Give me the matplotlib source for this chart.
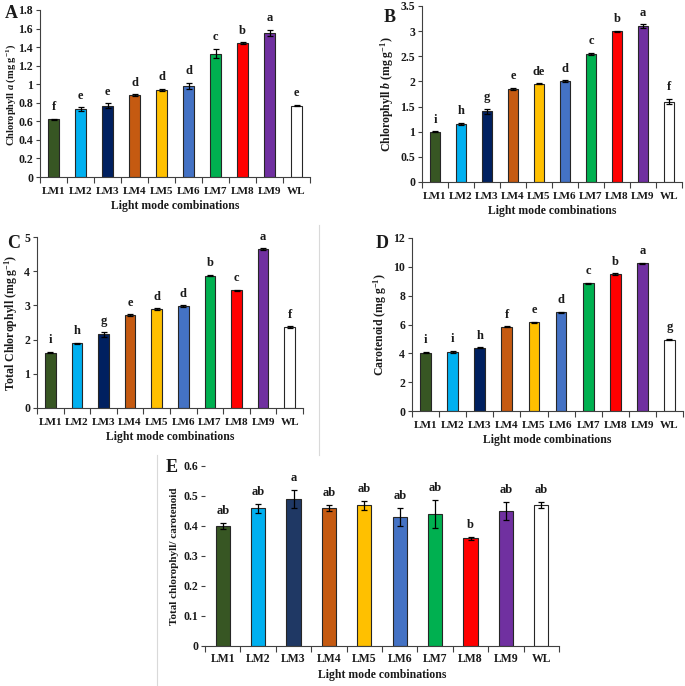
import numpy as np
import matplotlib
matplotlib.use("Agg")
import matplotlib.pyplot as plt
from matplotlib.lines import Line2D

plt.rcParams['font.family'] = ['Liberation Serif', 'DejaVu Serif']
plt.rcParams['font.weight'] = 'bold'
plt.rcParams['mathtext.fontset'] = 'custom'
plt.rcParams['mathtext.rm'] = 'Liberation Serif:bold'
plt.rcParams['mathtext.it'] = 'Liberation Serif:bold:italic'
plt.rcParams['mathtext.bf'] = 'Liberation Serif:bold'

# data
modes = ["LM1", "LM2", "LM3", "LM4", "LM5", "LM6", "LM7", "LM8", "LM9", "WL"]
colors = ["#375623", "#00B0F0", "#002060", "#C55A11", "#FFC000",
          "#4472C4", "#00B050", "#FF0000", "#7030A0", "#FFFFFF"]
colors_e = ["#375623", "#00B0F0", "#1F3864", "#C55A11", "#FFC000",
            "#4472C4", "#00B050", "#FF0000", "#7030A0", "#FFFFFF"]

chl_a = [0.62, 0.73, 0.77, 0.88, 0.94, 0.98, 1.33, 1.44, 1.55, 0.77]
chl_a_err = [0.01, 0.02, 0.025, 0.01, 0.01, 0.035, 0.05, 0.01, 0.035, 0.01]
chl_a_let = ["f", "e", "e", "d", "d", "d", "c", "b", "a", "e"]

chl_b = [1.0, 1.16, 1.41, 1.85, 1.95, 2.0, 2.55, 3.0, 3.1, 1.6]
chl_b_err = [0.01, 0.02, 0.05, 0.02, 0.01, 0.02, 0.02, 0.01, 0.04, 0.05]
chl_b_let = ["i", "h", "g", "e", "de", "d", "c", "b", "a", "f"]

tot_chl = [1.62, 1.89, 2.15, 2.72, 2.89, 2.97, 3.87, 3.44, 4.64, 2.36]
tot_chl_err = [0.02, 0.02, 0.06, 0.02, 0.02, 0.03, 0.02, 0.02, 0.03, 0.03]
tot_chl_let = ["i", "h", "g", "e", "d", "d", "b", "c", "a", "f"]

carot = [4.05, 4.1, 4.4, 5.85, 6.15, 6.85, 8.85, 9.5, 10.25, 4.95]
carot_err = [0.05, 0.06, 0.03, 0.03, 0.03, 0.03, 0.05, 0.06, 0.05, 0.05]
carot_let = ["i", "i", "h", "f", "e", "d", "c", "b", "a", "g"]

ratio = [0.40, 0.46, 0.49, 0.46, 0.47, 0.43, 0.44, 0.36, 0.45, 0.47]
ratio_err = [0.01, 0.015, 0.03, 0.01, 0.015, 0.03, 0.048, 0.005, 0.03, 0.01]
ratio_let = ["ab", "ab", "a", "ab", "ab", "ab", "ab", "b", "ab", "ab"]

W, H = 685, 686
fig = plt.figure(figsize=(W / 100, H / 100), dpi=100)
txt = '#1a1a1a'


def box(l, r, t, b):
    return [l / W, (H - b) / H, (r - l) / W, (b - t) / H]


def panel(rect, vals, errs, lets, cols, ylim, step, ylabel, tag, tagxy,
          tick_fs=8, ylab_fs=8.5, ylab_pad=3, xpad=7, left_spine=True):
    ax = fig.add_axes(box(*rect))
    x = np.arange(len(vals))
    ax.bar(x, vals, width=0.4, color=cols, edgecolor='#262626', linewidth=0.8,
           zorder=2)
    ax.errorbar(x, vals, yerr=errs, fmt='none', ecolor='black', elinewidth=0.9,
                capsize=2.5, capthick=0.9, zorder=3)
    for xi, v, e, s in zip(x, vals, errs, lets):
        ax.annotate(s, (xi, v + e), xytext=(0, 4), textcoords='offset points',
                    ha='center', va='bottom', fontsize=9, fontweight='bold',
                    color=txt)
    ax.set_xlim(-0.5, len(vals) - 0.5)
    ax.set_ylim(*ylim)
    yt = np.arange(ylim[0], ylim[1] + step / 2, step)
    ax.set_yticks(yt)
    ax.set_yticklabels([f"{v:g}" for v in yt], fontsize=8.5,
                       fontweight='bold', color=txt)
    ax.set_xticks(np.arange(-0.5, len(vals), 1.0))
    ax.set_xticklabels([])
    ax.set_xticks(x, minor=True)
    ax.set_xticklabels(modes, minor=True, fontsize=tick_fs, fontweight='bold',
                       color=txt)
    ax.tick_params(axis='x', which='minor', length=0, pad=xpad)
    ax.tick_params(axis='x', which='major', length=4, width=0.8,
                   color='#404040', direction='out')
    ax.tick_params(axis='y', length=3, width=0.8, color='#404040', pad=2)
    for s in ['top', 'right']:
        ax.spines[s].set_visible(False)
    ax.spines['left'].set_visible(left_spine)
    ax.spines['left'].set_color('#404040')
    ax.spines['bottom'].set_color('#404040')
    ax.set_xlabel("Light mode combinations", fontsize=8.5, fontweight='bold',
                  labelpad=3, color=txt)
    ax.set_ylabel(ylabel, fontsize=ylab_fs, fontweight='bold',
                  labelpad=ylab_pad, color=txt)
    fig.text(tagxy[0] / W, 1 - tagxy[1] / H, tag, fontsize=13,
             fontweight='bold', ha='left', va='center', color=txt)
    return ax


axa = panel((40, 310, 10, 177), chl_a, chl_a_err, chl_a_let, colors, (0, 1.8), 0.2,
            r"Chlorophyll $\mathit{a}$ (mg g$^{\mathrm{-1}}$)", "A", (5, 13),
            ylab_fs=7.5, ylab_pad=1)
axa.yaxis.set_label_coords(-0.08, 0.49)
panel((422, 682, 6, 182), chl_b, chl_b_err, chl_b_let, colors, (0, 3.5), 0.5,
      r"Chlorophyll $\mathit{b}$ (mg g$^{\mathrm{-1}}$)", "B", (384, 17))
panel((37, 303, 237, 408), tot_chl, tot_chl_err, tot_chl_let, colors, (0, 5), 1,
      r"Total Chlorophyll (mg g$^{\mathrm{-1}}$)", "C", (7, 243))
panel((412, 683, 238, 411), carot, carot_err, carot_let, colors, (0, 12), 2,
      r"Carotenoid (mg g$^{\mathrm{-1}}$)", "D", (376, 243))
panel((205, 559, 466, 646), ratio, ratio_err, ratio_let, colors_e, (0, 0.6), 0.1,
      "Total chlorophyll/ carotenoid", "E", (166, 468),
      tick_fs=8.5, ylab_fs=8, xpad=5, left_spine=False)

# faint frame lines from the original figure layout
fig.add_artist(Line2D([319 / W, 319 / W], [1 - 225 / H, 1 - 455 / H],
                      color='#d9d9d9', linewidth=0.8))
fig.add_artist(Line2D([157 / W, 157 / W], [1 - 455 / H, 0],
                      color='#d9d9d9', linewidth=0.8))

fig.savefig("out.png", dpi=100)
plt.close(fig)
